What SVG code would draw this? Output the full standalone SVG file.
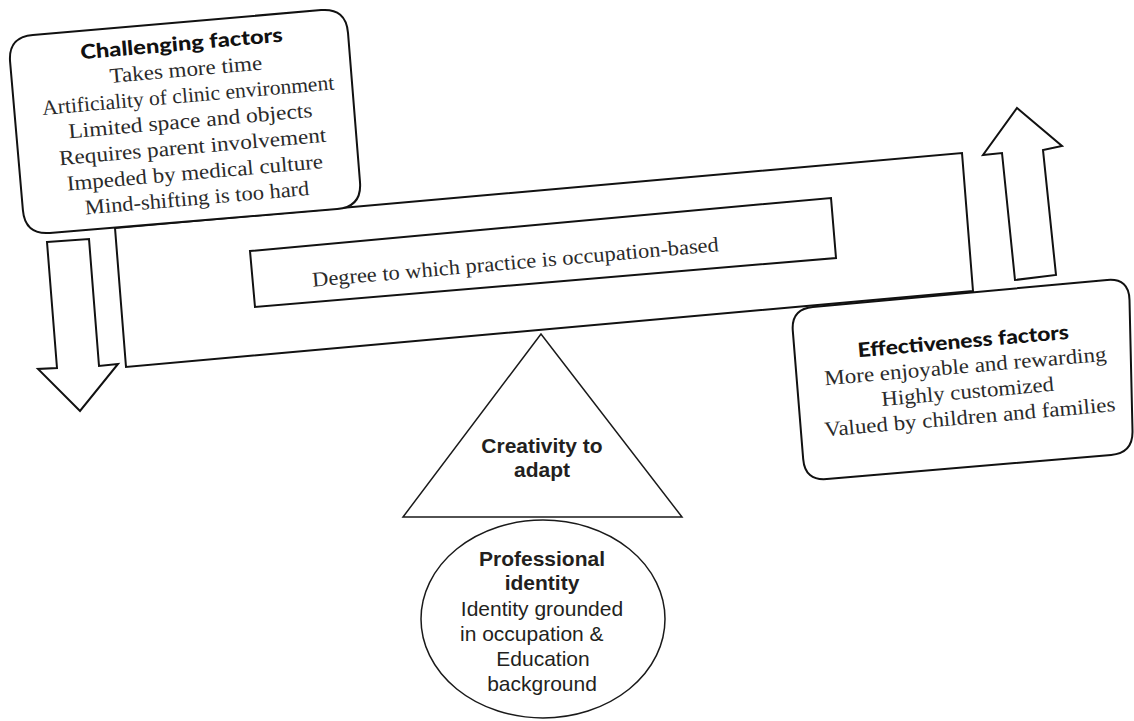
<svg xmlns="http://www.w3.org/2000/svg" width="1134" height="721" viewBox="0 0 1134 721">
<style>
.shape{fill:#fff;stroke:#111;stroke-width:2;stroke-linejoin:miter}
.thin{fill:#fff;stroke:#1a1a1a;stroke-width:1.5}
.body{font-family:"Liberation Serif",serif;font-size:21px;fill:#2a2a2a;text-anchor:middle}
.title{font-family:Lato,"Liberation Sans",sans-serif;font-weight:900;font-size:20px;fill:#111;text-anchor:middle}
.sans{font-family:"Liberation Sans",Arial,sans-serif;font-size:21px;fill:#231f20;text-anchor:middle}
.b{font-weight:bold}
</style>
<rect width="1134" height="721" fill="#fff"/>
<g id="plank">
  <polygon class="shape" points="115,228 962,153 973,291 126,367"/>
</g>
<g id="degree">
  <polygon class="shape" points="250,251 831,198 836,258 255,307"/>
  <text class="body" transform="translate(516,269) rotate(-5)" x="0" y="0" textLength="408" lengthAdjust="spacingAndGlyphs">Degree to which practice is occupation-based</text>
</g>
<g id="challenging">
  <path class="shape" d="M32.9,34.9 L321.1,10.1 Q346,8 348,32.9 L360,182.1 Q362,207 337.1,209.1 L49.9,232.9 Q25,235 22.9,210.1 L10.1,61.9 Q8,37 32.9,34.9 Z"/>
  <g transform="translate(192,140) rotate(-5)">
    <text class="title" x="-2" y="-90" textLength="203" lengthAdjust="spacingAndGlyphs">Challenging factors</text>
    <text class="body" x="0" y="-64" textLength="153" lengthAdjust="spacingAndGlyphs">Takes more time</text>
    <text class="body" x="0" y="-38" textLength="293" lengthAdjust="spacingAndGlyphs">Artificiality of clinic environment</text>
    <text class="body" x="0" y="-12.5" textLength="245" lengthAdjust="spacingAndGlyphs">Limited space and objects</text>
    <text class="body" x="0" y="13.5" textLength="268" lengthAdjust="spacingAndGlyphs">Requires parent involvement</text>
    <text class="body" x="0" y="39.5" textLength="257" lengthAdjust="spacingAndGlyphs">Impeded by medical culture</text>
    <text class="body" x="0" y="65" textLength="225" lengthAdjust="spacingAndGlyphs">Mind-shifting is too hard</text>
  </g>
</g>
<g id="effectiveness">
  <path class="shape" d="M812.9,307 L1107.1,280 Q1129,278 1129.5,300 L1132.5,431 Q1133,453 1111.1,454.9 L826.9,479.1 Q805,481 803.2,459.1 L792.8,330.9 Q791,309 812.9,307 Z"/>
  <g transform="translate(966,385) rotate(-5)">
    <text class="title" x="1" y="-37" textLength="212" lengthAdjust="spacingAndGlyphs">Effectiveness factors</text>
    <text class="body" x="1" y="-12" textLength="283" lengthAdjust="spacingAndGlyphs">More enjoyable and rewarding</text>
    <text class="body" x="1" y="13.5" textLength="173" lengthAdjust="spacingAndGlyphs">Highly customized</text>
    <text class="body" x="1" y="39" textLength="292" lengthAdjust="spacingAndGlyphs">Valued by children and families</text>
  </g>
</g>
<g id="connectors">
  <polygon id="arrow-down" class="shape" points="47,242 89,239 99,366 118,364 80,411 38,369 57,368"/>
  <polygon id="arrow-up" class="shape" points="1017,108 1062,146 1043,150 1056,275 1015,280 1002,153 983,155"/>
</g>
<g id="creativity">
  <polygon class="thin" points="541,334 403,517 682,517"/>
  <text class="sans b" x="542" y="453">Creativity to</text>
  <text class="sans b" x="542" y="477">adapt</text>
</g>
<g id="identity">
  <ellipse class="thin" cx="543" cy="619" rx="122" ry="99"/>
  <text class="sans b" x="542" y="566">Professional</text>
  <text class="sans b" x="542" y="590">identity</text>
  <text class="sans" x="542" y="616">Identity grounded</text>
  <text class="sans" x="460" y="641" style="text-anchor:start">in occupation &amp;</text>
  <text class="sans" x="543" y="666">Education</text>
  <text class="sans" x="542" y="691">background</text>
</g>
</svg>
